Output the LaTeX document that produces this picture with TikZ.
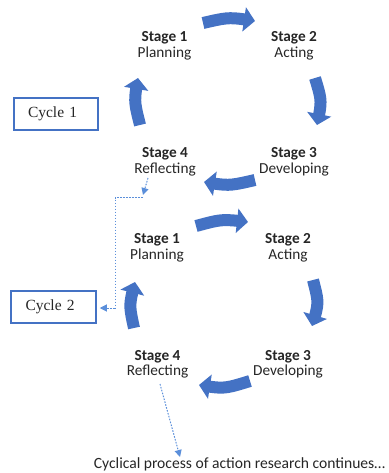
\documentclass[tikz,border=0pt]{standalone}
\usepackage{fontspec}
\setmainfont{Carlito}
\newfontfamily\serifbox{Liberation Serif}
\usetikzlibrary{arrows.meta,bending}
\definecolor{arrowblue}{HTML}{4472C4}
\definecolor{dotblue}{HTML}{5B8FDA}
\definecolor{txt}{HTML}{262626}
\tikzset{
  stagelabel/.style={align=center, text=txt, inner sep=0pt,
    font=\fontsize{15.3}{15.5}\selectfont},
  blockarrow/.style={draw=arrowblue, line width=12pt,
    -{Triangle[width=24pt,length=11pt,flex]}},
  cyclebox/.style={draw=arrowblue, line width=1.5pt, minimum height=32pt,
    text width=56pt, inner xsep=14pt, inner ysep=0pt, align=left,
    font=\serifbox\fontsize{15.5}{16}\selectfont, text=txt},
  dotarrow/.style={draw=dotblue, line width=1pt, dash pattern=on 1.6pt off 1.4pt,
    -{Triangle[width=7pt,length=7pt]}},
  dotline/.style={draw=dotblue, line width=1pt, dash pattern=on 1.6pt off 1.4pt},
}
\begin{document}
\begin{tikzpicture}[x=1pt,y=-1pt]
\useasboundingbox (0,0) rectangle (388,473);
% Cycle 1
\node[stagelabel] (a1) at (164.5,45.9) {\textbf{Stage 1}\\Planning};
\node[stagelabel] (a2) at (294,45.9) {\textbf{Stage 2}\\Acting};
\node[stagelabel] (a3) at (294,161.9) {\textbf{Stage 3}\\Developing};
\node[stagelabel] (a4) at (165,161.9) {\textbf{Stage 4}\\Reflecting};
\coordinate (a12s) at (203,23); \coordinate (a12e) at (255,21);
\coordinate (a23s) at (315,78); \coordinate (a23e) at (317,125);
\coordinate (a34s) at (255,180); \coordinate (a34e) at (204,182);
\coordinate (a41s) at (140,125); \coordinate (a41e) at (138,78);
\draw[blockarrow] (a12s) .. controls (229,17) .. (a12e);
\draw[blockarrow] (a23s) .. controls (322,101) .. (a23e);
\draw[blockarrow] (a34s) .. controls (229,186) .. (a34e);
\draw[blockarrow] (a41s) .. controls (134,101) .. (a41e);
\node[cyclebox, minimum width=84pt] (c1) at (56,114) {Cycle 1};
% Cycle 2
\node[stagelabel] (b1) at (157,247.9) {\textbf{Stage 1}\\Planning};
\node[stagelabel] (b2) at (288,247.9) {\textbf{Stage 2}\\Acting};
\node[stagelabel] (b3) at (288,364.3) {\textbf{Stage 3}\\Developing};
\node[stagelabel] (b4) at (157.5,364.3) {\textbf{Stage 4}\\Reflecting};
\coordinate (b12s) at (196,226); \coordinate (b12e) at (248,222);
\coordinate (b23s) at (313,280); \coordinate (b23e) at (312,326);
\coordinate (b34s) at (250,381); \coordinate (b34e) at (199,385);
\coordinate (b41s) at (134,328); \coordinate (b41e) at (135,282);
\draw[blockarrow] (b12s) .. controls (222,219) .. (b12e);
\draw[blockarrow] (b23s) .. controls (319,303) .. (b23e);
\draw[blockarrow] (b34s) .. controls (224,389) .. (b34e);
\draw[blockarrow] (b41s) .. controls (129,305) .. (b41e);
\node[cyclebox, minimum width=85pt] (c2) at (53.5,307) {Cycle 2};
% bottom text
\node[anchor=base, text=txt, inner sep=0pt, font=\fontsize{15.6}{16}\selectfont] (cont) at (239.5,468) {Cyclical process of action research continues\ldots};
% dotted connectors
\coordinate (d1s) at (148,178);
\coordinate (d1e) at (143,195);
\coordinate (d2s) at (143,197.5);
\coordinate (d2a) at (115,197.5);
\coordinate (d2b) at (115,308);
\draw[dotarrow] (d1s) -- (d1e);
\draw[dotline] (d2s) -- (d2a) -- (d2b);
\draw[dotarrow, shorten >=3pt] (d2b) -- (c2.east |- d2b);
\coordinate (d3s) at (160,384);
\draw[dotarrow] (d3s) -- (180,457);
\end{tikzpicture}
\end{document}
